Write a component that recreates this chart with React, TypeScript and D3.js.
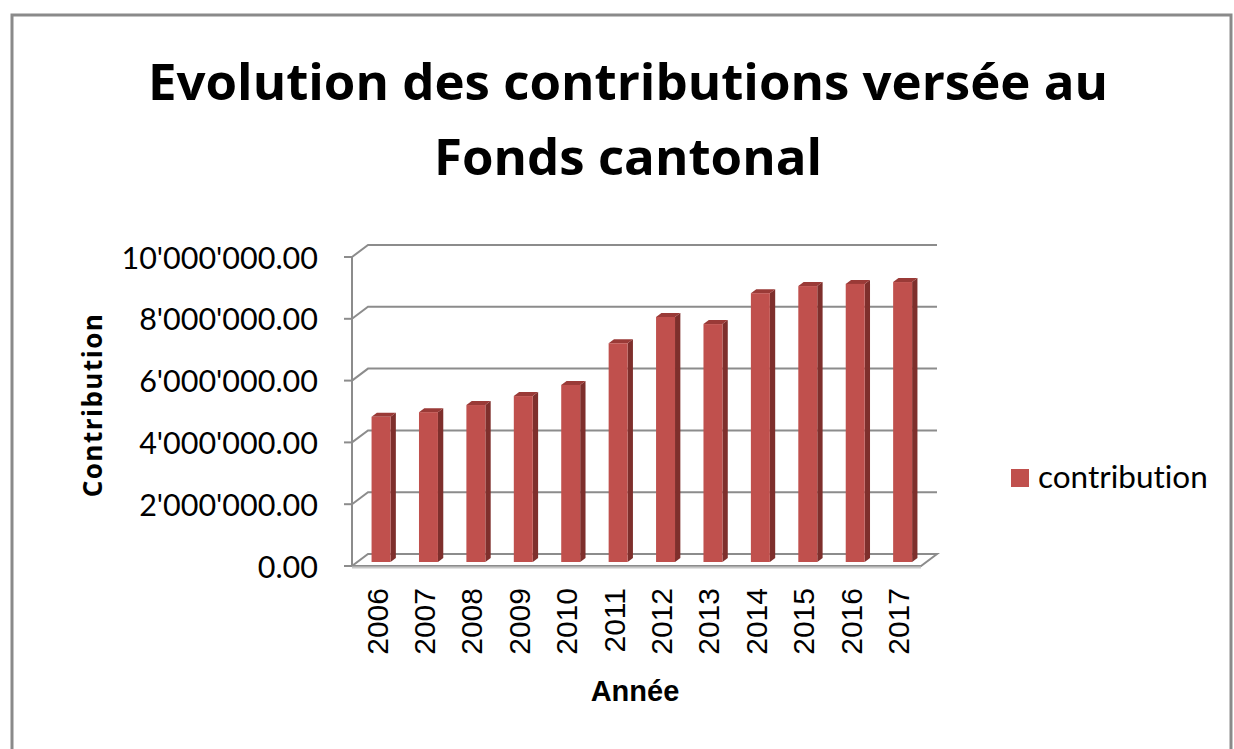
import React from "react";
import * as d3 from "d3";

const years = ["2006","2007","2008","2009","2010","2011","2012","2013","2014","2015","2016","2017"];
const contributions = [4700000, 4850000, 5080000, 5370000, 5730000, 7080000, 7930000, 7700000, 8700000, 8930000, 9000000, 9060000];
const yTicks = [0, 2000000, 4000000, 6000000, 8000000, 10000000];
const titleLines = ["Evolution des contributions versée au", "Fonds cantonal"];
const seriesName = "contribution";
const xTitle = "Année";
const yTitle = "Contribution";

const W = 1234, H = 749;
const frontLeft = 352, frontRight = 921;
const DX = 16, DY = -12; // full depth offset
const gridColor = "#8c8c8c";
const calibri = "Lato, 'Noto Sans', sans-serif";
const calibriBold = "'Open Sans', 'Noto Sans', sans-serif";
const arial = "'Liberation Sans', Arial, sans-serif";
const noLig = { fontVariantLigatures: "none" as const };

function fmt(v: number) {
  const s = d3.format(",.2f")(v);
  return s.replace(/,/g, "'");
}

export default function App() {
  const y = d3.scaleLinear().domain([0, 10000000]).range([566, 257]);
  const x = d3.scaleBand<string>().domain(years).range([frontLeft, frontRight]).paddingInner(0.6).paddingOuter(0.3);
  const bw = x.bandwidth();
  const d1x = DX / 3, d1y = DY / 3;

  return (
    <svg width={W} height={H} style={{ position: "absolute", left: 0, top: 0, background: "#fff" }}>
      <rect x={0} y={0} width={W} height={H} fill="#fff" />
      <rect x={12} y={15} width={1219} height={800} fill="#fff" stroke="#8a8a8a" strokeWidth={3} />
      {titleLines.map((t, i) => (
        <text key={i} x={628} y={100 + i * 75} textAnchor="middle" fontFamily={calibriBold} fontWeight={700} fontSize={51} fill="#000" style={noLig}>{t}</text>
      ))}
      {/* floor */}
      <path d={`M${frontLeft},${y(0)} L${frontRight},${y(0)} L${frontRight + DX},${y(0) + DY} L${frontLeft + DX},${y(0) + DY} Z`} fill="#fff" stroke={gridColor} strokeWidth={2} />
      <line x1={frontLeft} x2={frontRight} y1={y(0) + 1.5} y2={y(0) + 1.5} stroke="#c8c8c8" strokeWidth={2} />
      {/* gridlines */}
      {yTicks.map((t) => (
        <g key={t}>
          {t > 0 && <path d={`M${frontLeft},${y(t)} L${frontLeft + DX},${y(t) + DY} L${frontRight + DX},${y(t) + DY}`} fill="none" stroke={gridColor} strokeWidth={2} />}
          <line x1={frontLeft - 8} x2={frontLeft} y1={y(t)} y2={y(t)} stroke={gridColor} strokeWidth={2} />
          <text x={318} y={y(t)} dy="0.38em" textAnchor="end" fontFamily={calibri} fontSize={30.5} fill="#000">{fmt(t)}</text>
        </g>
      ))}
      <line x1={frontLeft} x2={frontLeft} y1={y(10000000)} y2={y(0)} stroke={gridColor} strokeWidth={2} />
      {/* bars */}
      {years.map((yr, i) => {
        const v = contributions[i];
        const x0 = (x(yr) as number) + d1x;
        const yT = y(v) + d1y;
        const yB = y(0) + d1y;
        return (
          <g key={yr}>
            <path d={`M${x0 + bw},${yT} L${x0 + bw + d1x},${yT + d1y} L${x0 + bw + d1x},${yB + d1y} L${x0 + bw},${yB} Z`} fill="#7e2f2c" />
            <path d={`M${x0},${yT} L${x0 + d1x},${yT + d1y} L${x0 + bw + d1x},${yT + d1y} L${x0 + bw},${yT} Z`} fill="#9a3a37" />
            <rect x={x0} y={yT} width={bw} height={yB - yT} fill="#c0504d" />
          </g>
        );
      })}
      {/* x labels */}
      {years.map((yr) => {
        const cx = (x(yr) as number) + bw / 2 + 1;
        return (
          <text key={yr} transform={`translate(${cx},588) rotate(-90)`} dy="0.36em" textAnchor="end" fontFamily={arial} fontSize={30} fill="#000">{yr}</text>
        );
      })}
      <text x={635} y={701} textAnchor="middle" fontFamily={arial} fontWeight={700} fontSize={29} fill="#000">{xTitle}</text>
      <text transform={`translate(102,405) rotate(-90)`} textAnchor="middle" fontFamily={calibriBold} fontWeight={700} fontSize={26} letterSpacing={1.5} fill="#000" style={noLig}>{yTitle}</text>
      {/* legend */}
      <rect x={1011} y={469} width={18} height={18} fill="#c0504d" />
      <text x={1038} y={488} fontFamily={calibri} fontSize={31.5} fill="#000" style={noLig}>{seriesName}</text>
    </svg>
  );
}
